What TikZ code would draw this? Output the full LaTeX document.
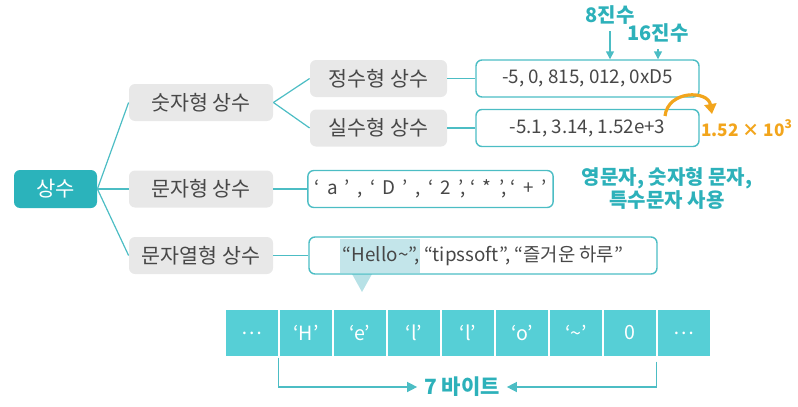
\documentclass[tikz,border=0pt]{standalone}
\usepackage{fontspec}
\setmainfont{Noto Sans CJK KR}
\usetikzlibrary{arrows.meta, positioning, calc}
\definecolor{tealline}{HTML}{4CBDC4}
\definecolor{tealroot}{HTML}{2BB3BB}
\definecolor{tealcell}{HTML}{56CFD6}
\definecolor{tealtext}{HTML}{2DB1BA}
\definecolor{boxgray}{HTML}{E8E8E8}
\definecolor{textgray}{HTML}{474747}
\definecolor{hiorange}{HTML}{F2A51C}
\definecolor{hilite}{HTML}{C3E5EA}
\tikzset{
  %% root node
  rootbox/.style={
    rectangle, rounded corners=3pt, fill=tealroot,
    text=white, font=\fontsize{10.5}{12}\selectfont,
    minimum width=41.5pt, minimum height=19pt
  },
  %% gray category box
  catbox/.style={
    rectangle, rounded corners=3pt, fill=boxgray,
    text=textgray, font=\fontsize{10.3}{12}\selectfont,
    minimum width=#1, minimum height=18.5pt
  },
  catbox/.default=72pt,
  %% outlined value box
  valbox/.style={
    rectangle, rounded corners=3pt, draw=tealline,
    line width=0.7pt, text=textgray,
    font=\fontsize{9.4}{11}\selectfont,
    minimum width=#1, minimum height=18.5pt
  },
  %% memory cell
  cell/.style={
    rectangle, fill=tealcell, draw=white, line width=0.6pt,
    text=white, font=\fontsize{9.8}{11}\selectfont,
    minimum width=27pt, minimum height=24pt
  },
  %% note text
  note/.style={text=tealtext, font=\fontsize{10}{11.5}\selectfont\bfseries},
  link/.style={draw=tealline, line width=0.6pt},
  arr/.style={-{Triangle[length=5pt,width=5pt]}, draw=tealline,
              line width=0.7pt},
}
\begin{document}
\begin{tikzpicture}[x=0.5pt, y=-0.5pt]
  \useasboundingbox (0,0) rectangle (798,407);

  \node[rootbox] (root) at (55.5,189) {상수};

  \node[catbox] (num) at (201,102.5) {숫자형 상수};
  \node[catbox] (chr) at (201,189)   {문자형 상수};
  \node[catbox] (str) at (201,255.5) {문자열형 상수};

  \node[catbox=68.5pt] (int)  at (378.5,78.5) {정수형 상수};
  \node[catbox=68.5pt] (real) at (378.5,128)  {실수형 상수};

  \node[valbox=111.5pt] (intval)  at (587.5,78.5) {-5, 0, 815, 012, 0xD5};
  \node[valbox=111.5pt] (realval) at (587.5,128)  {-5.1, 3.14, 1.52e+3};
  \node[valbox=121.5pt] (chrval)  at (430.5,189)
       {‘\, a\, ’\, ,\, ‘\, D\, ’\, ,\, ‘\, 2\, ’, ‘\, *\, ’, ‘\, +\, ’};

  %% highlight of the first string
  \fill[hilite] (340,239) rectangle (420,273);
  \fill[hilite!90!tealline] (352,274) -- (372,274) -- (362,292) -- cycle;
  \node[valbox=174pt] (strval) at (483,255.5)
       {“Hello\textasciitilde”, “tipssoft”, “즐거운 하루”};

  \foreach \a/\b in {root/num, root/chr, root/str, num/int, num/real,
                     int/intval, real/realval, chr/chrval, str/strval}
    \draw[link] (\a.east) -- (\b.west);

  %% number base notes
  \node[note] (oct) at (610,15) {8진수};
  \node[note] (hex) at (658,33) {16진수};
  \draw[arr, -{Triangle[length=4pt,width=4pt]}] (oct.south) -- (oct.south |- intval.north);
  \draw[arr, -{Triangle[length=4pt,width=4pt]}] (hex.south) -- (hex.south |- intval.north);

  %% exponent note
  \coordinate (arcstart) at (665,116);
  \node[text=hiorange, font=\fontsize{8.6}{10}\selectfont\bfseries]
       (expo) at (747,128) {1.52 × 10\textsuperscript{3}};
  \draw[hiorange, line width=1.6pt, -{Triangle[length=5pt,width=6pt]}]
       (arcstart) .. controls (668,90) and (708,90) .. (712,114);

  \node[note, align=center] (chrnote) at (667,188)
       {영문자, 숫자형 문자,\\특수문자 사용};

  %% memory cells
  \foreach \i/\t in {0/\dots, 1/‘H’, 2/‘e’, 3/‘l’, 4/‘l’, 5/‘o’,
                     6/‘\textasciitilde’, 7/0, 8/\dots}
    \node[cell] (c\i) at (252+54*\i,333) {\t};

  \node[note, font=\fontsize{10.5}{12}\selectfont\bfseries] (bytes) at (462,387) {7 바이트};
  \draw[arr] (c1.south west) |- (bytes.west);
  \draw[arr] ([yshift=-2pt]c8.south west) |- (bytes.east);

\end{tikzpicture}
\end{document}
